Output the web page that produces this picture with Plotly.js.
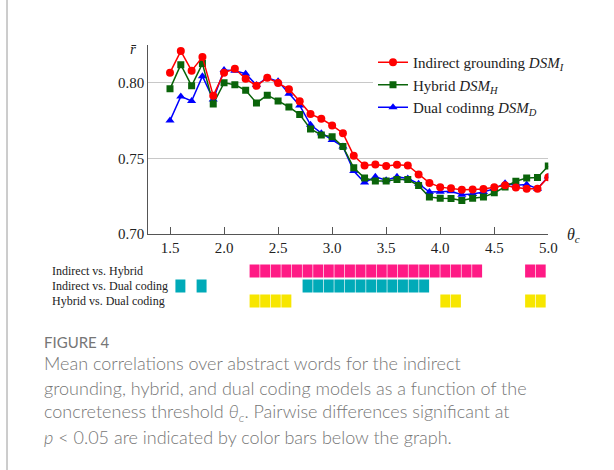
<!DOCTYPE html>
<html>
<head>
<meta charset="utf-8">
<script src="https://cdn.plot.ly/plotly-3.0.1.min.js"></script>
<style>
html,body{margin:0;padding:0;background:#fff;}
#chart{width:614px;height:470px;}
</style>
</head>
<body>
<div id="chart"></div>
<script>
// Concreteness thresholds
var thresholds = [1.5,1.6,1.7,1.8,1.9,2.0,2.1,2.2,2.3,2.4,2.5,2.6,2.7,2.8,2.9,3.0,3.1,3.2,3.3,3.4,3.5,3.6,3.7,3.8,3.9,4.0,4.1,4.2,4.3,4.4,4.5,4.6,4.7,4.8,4.9,5.0];

// Mean correlations
var indirect = [0.8067,0.8210,0.8080,0.8170,0.7915,0.8067,0.8093,0.8027,0.7980,0.8033,0.7998,0.7958,0.7878,0.7793,0.7762,0.7718,0.7667,0.7518,0.7453,0.7460,0.7450,0.7458,0.7453,0.7393,0.7338,0.7310,0.7302,0.7293,0.7295,0.7298,0.7309,0.7322,0.7307,0.7300,0.7300,0.7375];
var hybrid   = [0.7960,0.8120,0.7980,0.8127,0.7860,0.8000,0.7987,0.7950,0.7867,0.7918,0.7880,0.7840,0.7790,0.7695,0.7655,0.7644,0.7578,0.7438,0.7370,0.7350,0.7350,0.7360,0.7360,0.7320,0.7244,0.7237,0.7235,0.7222,0.7237,0.7244,0.7273,0.7311,0.7349,0.7370,0.7373,0.7449];
var dual     = [0.7750,0.7910,0.7880,0.8044,0.7890,0.8084,0.8080,0.8060,0.7985,0.8033,0.8010,0.7927,0.7850,0.7722,0.7667,0.7622,0.7578,0.7416,0.7340,0.7378,0.7356,0.7378,0.7367,0.7333,0.7278,0.7280,0.7282,0.7260,0.7264,0.7278,0.7300,0.7335,0.7322,0.7327,0.7300,0.7380];

// Thresholds with significant pairwise differences (p < 0.05)
var sigIndirectHybrid = [2.3,2.4,2.5,2.6,2.7,2.8,2.9,3.0,3.1,3.2,3.3,3.4,3.5,3.6,3.7,3.8,3.9,4.0,4.1,4.2,4.3,4.4,4.9,5.0];
var sigIndirectDual   = [1.6,1.8,2.8,2.9,3.0,3.1,3.2,3.3,3.4,3.5,3.6,3.7,3.8,3.9];
var sigHybridDual     = [2.3,2.4,2.5,2.6,4.1,4.2,4.9,5.0];

var xTicks = [1.5,2.0,2.5,3.0,3.5,4.0,4.5,5.0];
var xTickText = ['1.5','2.0','2.5','3.0','3.5','4.0','4.5','5.0'];
var yTicks = [0.70,0.75,0.80];
var yTickText = ['0.70','0.75','0.80'];

var rowLabels = ['Indirect vs. Hybrid','Indirect vs. Dual coding','Hybrid vs. Dual coding'];
var captionTitle = 'FIGURE 4';
var captionLines = [
  'Mean correlations over abstract words for the indirect',
  'grounding, hybrid, and dual coding models as a function of the',
  'concreteness threshold <i>θ</i><sub><i>c</i></sub>. Pairwise differences significant at',
  '<i>p</i> &lt; 0.05 are indicated by color bars below the graph.'
];

var W = 614, H = 470;
function px(x){ return x / W; }
function py(y){ return (H - y) / H; }

var serif = 'Liberation Serif, Times New Roman, serif';
var sans = 'Lato, Open Sans, sans-serif';

var traces = [
  {x: thresholds, y: dual, type: 'scatter', mode: 'lines+markers', name: 'Dual codinng <i>DSM</i><sub><i>D</i></sub>',
   line: {color: '#0000ff', width: 1.5}, marker: {symbol: 'triangle-up', size: 8, color: '#0000ff'}},
  {x: thresholds, y: hybrid, type: 'scatter', mode: 'lines+markers', name: 'Hybrid <i>DSM</i><sub><i>H</i></sub>',
   line: {color: '#0a640a', width: 1.5}, marker: {symbol: 'square', size: 7, color: '#0a640a'}},
  {x: thresholds, y: indirect, type: 'scatter', mode: 'lines+markers', name: 'Indirect grounding <i>DSM</i><sub><i>I</i></sub>',
   line: {color: '#ff0000', width: 1.5}, marker: {symbol: 'circle', size: 8, color: '#ff0000'}}
];

var sigSets = [sigIndirectHybrid, sigIndirectDual, sigHybridDual];
var sigColors = ['#ff1a85', '#00aab8', '#f7e600'];
var rowBase = [2.06, 1.06, 0.06];
sigSets.forEach(function(s, i){
  traces.push({
    x: s, y: s.map(function(){ return 0.88; }), base: rowBase[i],
    type: 'bar', xaxis: 'x2', yaxis: 'y2', width: 0.094,
    marker: {color: sigColors[i], line: {width: 0}},
    showlegend: false, hoverinfo: 'skip'
  });
});

var annotations = [
  {text: '<i>r̄</i>', x: px(133), y: py(49), xref: 'paper', yref: 'paper', showarrow: false,
   xanchor: 'center', yanchor: 'middle', font: {family: serif, size: 15, color: '#222'}},
  {text: '<i>θ</i><sub><i>c</i></sub>', x: px(565), y: py(235), xref: 'paper', yref: 'paper', showarrow: false,
   xanchor: 'left', yanchor: 'middle', font: {family: serif, size: 16, color: '#222'}}
];
var rowY = [270.5, 286, 301];
rowLabels.forEach(function(t, i){
  annotations.push({text: t, x: px(50), y: py(rowY[i]), xref: 'paper', yref: 'paper', showarrow: false,
    xanchor: 'left', yanchor: 'middle', font: {family: serif, size: 12, color: '#222'}});
});
annotations.push({text: captionTitle, x: px(42), y: py(342), xref: 'paper', yref: 'paper', showarrow: false,
  xanchor: 'left', yanchor: 'middle', font: {family: sans, size: 15, color: '#767676', weight: 400}});
var capY = [363, 388, 412.5, 437];
captionLines.forEach(function(t, i){
  annotations.push({text: t, x: px(42), y: py(capY[i]), xref: 'paper', yref: 'paper', showarrow: false,
    xanchor: 'left', yanchor: 'middle', font: {family: sans, size: 18, color: '#767676', weight: 300}});
});

var layout = {
  width: W, height: H,
  margin: {l: 0, r: 0, t: 0, b: 0, pad: 0},
  paper_bgcolor: '#fff', plot_bgcolor: '#fff',
  showlegend: true,
  barmode: 'overlay',
  font: {family: serif, size: 15, color: '#222'},
  xaxis: {
    domain: [px(148.3), px(548.3)], range: [1.2992, 5.0],
    tickvals: xTicks, ticktext: xTickText,
    ticks: 'inside', ticklen: 7, tickcolor: '#555', tickwidth: 1,
    showline: true, linecolor: '#555', linewidth: 1,
    showgrid: false, zeroline: false, anchor: 'y',
    tickfont: {family: serif, size: 15, color: '#222'}
  },
  yaxis: {
    domain: [py(234), py(45)], range: [0.70, 0.825],
    tickvals: yTicks, ticktext: yTickText,
    ticks: '', showline: true, linecolor: '#555', linewidth: 1,
    showgrid: true, gridcolor: '#c8c8c8', gridwidth: 1, zeroline: false, anchor: 'x',
    tickfont: {family: serif, size: 15, color: '#222'}
  },
  xaxis2: {domain: [px(164.5), px(546.0)], range: [1.45, 5.05], visible: false, anchor: 'y2', fixedrange: true},
  yaxis2: {domain: [py(308.5), py(263.5)], range: [0, 3], visible: false, anchor: 'x2', fixedrange: true},
  legend: {
    x: px(373), y: py(46), xanchor: 'left', yanchor: 'top',
    bgcolor: '#ffffff', borderwidth: 0, traceorder: 'reversed',
    font: {family: serif, size: 15, color: '#222'}
  },
  shapes: [
    {type: 'line', xref: 'paper', yref: 'paper', x0: px(7), x1: px(7), y0: 0, y1: 1,
     line: {color: '#9a9a9a', width: 1}}
  ],
  annotations: annotations
};

Plotly.newPlot('chart', traces, layout, {displayModeBar: false, staticPlot: true});
</script>
</body>
</html>
